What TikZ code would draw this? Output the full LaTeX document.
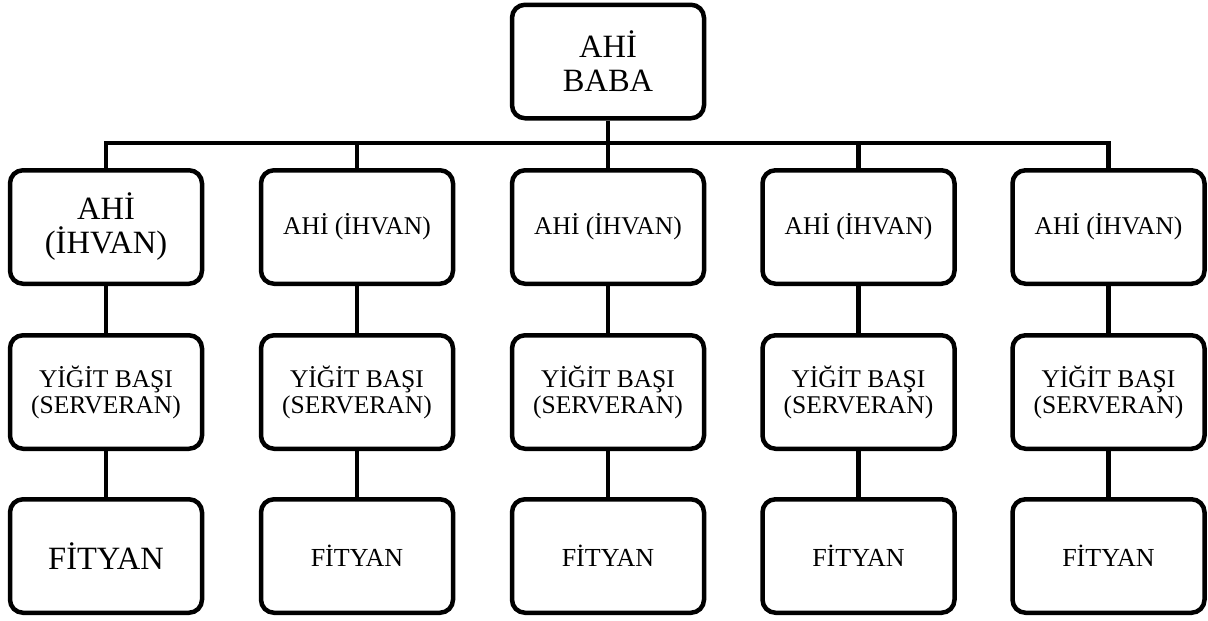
\documentclass[tikz,border=0pt]{standalone}
\usepackage{fontspec}
\setmainfont{Liberation Serif}
\begin{document}
\begin{tikzpicture}[x=1pt,y=-1pt,
  box/.style={draw=black, line width=4.5pt, rounded corners=13pt, minimum width=192pt, minimum height=113.5pt, align=center, inner sep=2pt, fill=white},
  big/.style={font=\fontsize{32.5}{34}\selectfont},
  mid/.style={font=\fontsize{25.5}{27}\selectfont},
  sml/.style={font=\fontsize{26}{27}\selectfont},
  ser/.style={font=\fontsize{25.5}{26}\selectfont},
  conn/.style={line width=4.5pt, line join=miter}]
\useasboundingbox (0,0) rectangle (1208,621);
\node[box,big] (top) at (608,61.5) {AHİ\\BABA};
\foreach \i/\x in {1/106,2/357,3/608,4/858.5,5/1108.5}{
  \coordinate (c\i) at (\x,143);
}
\node[box,big] (a1) at (106,227) {AHİ\\(İHVAN)};
\node[box,mid] (a2) at (357,227) {AHİ (İHVAN)};
\node[box,mid] (a3) at (608,227) {AHİ (İHVAN)};
\node[box,mid] (a4) at (858.5,227) {AHİ (İHVAN)};
\node[box,mid] (a5) at (1108.5,227) {AHİ (İHVAN)};
\foreach \i/\x in {1/106,2/357,3/608,4/858.5,5/1108.5}{
  \node[box,ser] (y\i) at (\x,392) {YİĞİT BAŞI\\(SERVERAN)};
}
\node[box,big] (f1) at (106,556) {FİTYAN};
\foreach \i/\x in {2/357,3/608,4/858.5,5/1108.5}{
  \node[box,sml] (f\i) at (\x,556) {FİTYAN};
}
\draw[conn] (top.south) -- (c3);
\draw[conn] (a1.north) -- (c1) -- (c5) -- (a5.north);
\foreach \i in {2,3,4}{
  \draw[conn] (c\i) -- (a\i.north);
}
\foreach \i in {1,...,5}{
  \draw[conn] (a\i.south) -- (y\i.north);
  \draw[conn] (y\i.south) -- (f\i.north);
}
\end{tikzpicture}
\end{document}
